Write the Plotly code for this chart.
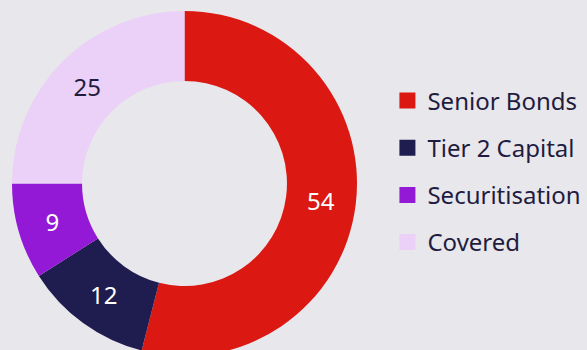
import plotly.graph_objects as go

labels = ["Senior Bonds", "Tier 2 Capital", "Securitisation", "Covered"]
values = [54, 12, 9, 25]
colors = ["#db1812", "#1f1c4f", "#9419d6", "#ebd0f7"]
text_colors = ["#ffffff", "#ffffff", "#ffffff", "#1f1c3f"]

W, H = 587, 367
cx, r = 184.5, 172.5

fig = go.Figure()
fig.add_trace(go.Pie(
    labels=labels, values=values, sort=False, direction="clockwise", rotation=0,
    hole=0.594, marker=dict(colors=colors, line=dict(width=0)),
    textinfo="value", textposition="inside", insidetextorientation="horizontal",
    textfont=dict(size=24, color=text_colors, family="Noto Sans"),
    domain=dict(x=[(cx - r) / W, (cx + r) / W], y=[0, 1]),
    showlegend=False, hoverinfo="label+value",
))
for lab, col in zip(labels, colors):
    fig.add_trace(go.Scatter(
        x=[None], y=[None], mode="markers", name=lab, legendgroup=lab,
        marker=dict(symbol="square", size=16, color=col, line=dict(width=0)),
        showlegend=True,
    ))

fig.update_layout(
    width=W, height=H,
    margin=dict(l=0, r=0, t=0, b=0),
    paper_bgcolor="#e8e7ec", plot_bgcolor="#e8e7ec",
    xaxis=dict(visible=False), yaxis=dict(visible=False),
    font=dict(family="Noto Sans", color="#1f1c3f"),
    legend=dict(x=0.660, y=0.533, xanchor="left", yanchor="middle",
                font=dict(size=24, color="#1f1c3f"), tracegroupgap=13,
                itemwidth=30, bgcolor="rgba(0,0,0,0)"),
)

fig.write_html("out.html", config={"displayModeBar": False},
               post_script="document.body.style.margin='0';document.body.style.overflow='hidden';")
